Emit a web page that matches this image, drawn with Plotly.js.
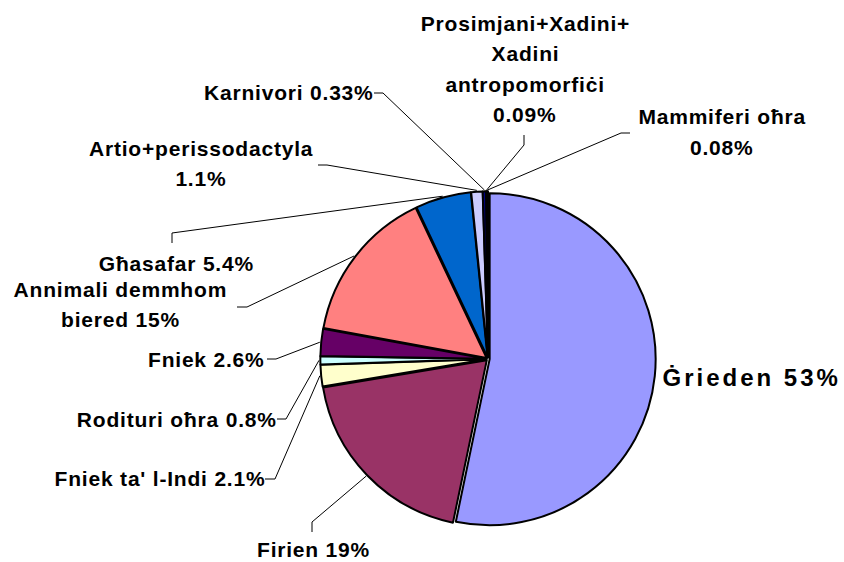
<!DOCTYPE html>
<html>
<head>
<meta charset="utf-8">
<script src="https://cdn.plot.ly/plotly-3.0.1.min.js"></script>
<style>
html,body{margin:0;padding:0;background:#fff;}
#chart{width:844px;height:562px;}
g.annotation text{letter-spacing:0.8px;}
g.annotation[data-index="0"] text{letter-spacing:3px;}
</style>
</head>
<body>
<div id="chart"></div>
<script>
// ---- data ----
const categories = ['Ġrieden', 'Firien', "Fniek ta' l-Indi", 'Rodituri oħra', 'Fniek',
  'Annimali demmhom biered', 'Għasafar', 'Artio+perissodactyla', 'Karnivori',
  'Prosimjani+Xadini+ Xadini antropomorfiċi', 'Mammiferi oħra'];
const values = [53, 19, 2.1, 0.8, 2.6, 15, 5.4, 1.1, 0.33, 0.09, 0.08];
const percentLabels = ['53%', '19%', '2.1%', '0.8%', '2.6%', '15%', '5.4%', '1.1%', '0.33%', '0.09%', '0.08%'];
// label text as displayed (with line breaks)
const labelText = [
  'Ġrieden 53%',
  'Firien 19%',
  "Fniek ta' l-Indi 2.1%",
  'Rodituri oħra 0.8%',
  'Fniek 2.6%',
  'Annimali demmhom<br>biered 15%',
  'Għasafar 5.4%',
  'Artio+perissodactyla<br>1.1%',
  'Karnivori 0.33%',
  'Prosimjani+Xadini+<br>Xadini<br>antropomorfiċi<br>0.09%',
  'Mammiferi oħra<br>0.08%'
];
const colors = ['#9999FF', '#993366', '#FFFFCC', '#CCFFFF', '#660066', '#FF8080',
  '#0066CC', '#CCCCFF', '#000080', '#FF00FF', '#FFFF00'];

// ---- layout (pixel positions of labels and leader stubs) ----
const W = 844, H = 562;
const cx = 488, cy = 359, R = 166;
const PULL = 0.01;
const LINE_GAP = 30.5;
const labelPos = [
  {x: 677, y: 377, xa: 'left', size: 24, stub: null},
  {x: 313, y: 549, xa: 'center', stub: [[312, 532], [312, 522]]},
  {x: 259, y: 478, xa: 'right', stub: [[265, 479], [275, 479]]},
  {x: 272, y: 419, xa: 'right', stub: [[277, 419], [286, 419]]},
  {x: 263, y: 359, xa: 'right', stub: [[267, 359], [276, 359]]},
  {x: 120, y: 304.5, xa: 'center', stub: [[237, 307], [247, 307]]},
  {x: 176, y: 263, xa: 'center', stub: [[172, 243], [172, 233]]},
  {x: 201, y: 163.5, xa: 'center', stub: [[318, 165], [327, 165]]},
  {x: 370, y: 93, xa: 'right', stub: [[374, 93], [383, 93]]},
  {x: 525, y: 69, xa: 'center', stub: [[524, 135], [524, 145]]},
  {x: 722, y: 132, xa: 'center', stub: [[630, 133], [621, 133]]}
];

const px = x => x / W;
const py = y => 1 - y / H;

const total = values.reduce((a, b) => a + b, 0);
let cum = 0;
const annotations = [];
const shapes = [];
values.forEach((v, i) => {
  const mid = (cum + v / 2) / total * 2 * Math.PI; // clockwise from top
  cum += v;
  const L = labelPos[i];
  const lines = labelText[i].split('<br>');
  lines.forEach((ln, k) => {
    const yy = L.y + (k - (lines.length - 1) / 2) * LINE_GAP;
    annotations.push({
      xref: 'paper', yref: 'paper', x: px(L.x), y: py(yy),
      xanchor: L.xa, yanchor: 'middle', align: 'center',
      text: '<b>' + ln + '</b>', showarrow: false,
      font: {family: 'Liberation Sans, Arial, sans-serif', size: L.size || 21, color: '#000'}
    });
  });
  if (L.stub) {
    const ex = cx + (R + 3) * Math.sin(mid);
    const ey = cy - (R + 3) * Math.cos(mid);
    const p = [L.stub[0], L.stub[1], [ex, ey]];
    shapes.push({
      type: 'path', xref: 'paper', yref: 'paper',
      path: 'M' + p.map(q => px(q[0]) + ',' + py(q[1])).join(' L'),
      line: {color: '#000', width: 1}
    });
  }
});

const Rd = R * (1 + PULL);
const trace = {
  type: 'pie',
  labels: categories,
  values: values,
  text: percentLabels,
  sort: false,
  direction: 'clockwise',
  rotation: 0,
  textinfo: 'none',
  hoverinfo: 'label+text',
  pull: PULL,
  marker: {colors: colors, line: {color: '#000', width: 2}},
  domain: {x: [px(cx - Rd), px(cx + Rd)], y: [py(cy + Rd), py(cy - Rd)]},
  showlegend: false
};

const layout = {
  width: W, height: H,
  margin: {l: 0, r: 0, t: 0, b: 0},
  paper_bgcolor: '#fff',
  plot_bgcolor: '#fff',
  showlegend: false,
  annotations: annotations,
  shapes: shapes
};

Plotly.newPlot('chart', [trace], layout, {displayModeBar: false, staticPlot: true});
</script>
</body>
</html>
